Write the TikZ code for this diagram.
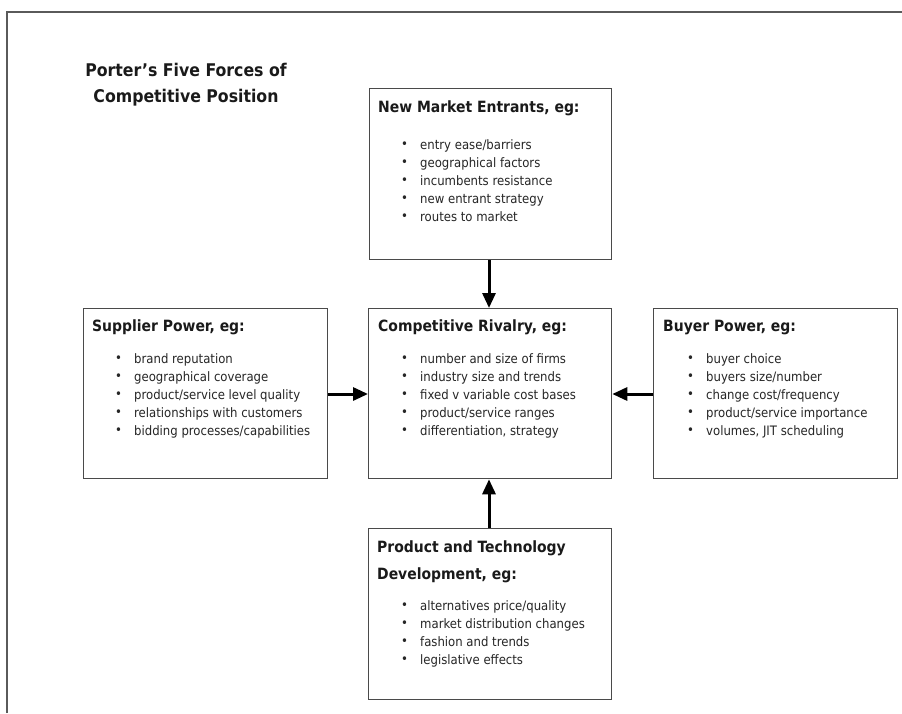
\documentclass[tikz,border=0pt]{standalone}
\usepackage{fontspec}
\setmainfont{DejaVu Sans Condensed}[BoldFont={DejaVu Sans Condensed Bold}]
\usetikzlibrary{arrows.meta}
\definecolor{framegray}{HTML}{5A5A5A}
\definecolor{boxgray}{HTML}{4A4A4A}
\definecolor{ink}{HTML}{1A1A1A}
\definecolor{bodyink}{HTML}{262626}
% bullet list set with its first baseline as reference point
\newcommand{\forcelist}[1]{\fontsize{13}{18}\selectfont\begin{tabular}[t]{@{}p{19pt}@{}l@{}}#1\end{tabular}}
\newcommand{\bitem}{\raisebox{0.3pt}{•}&}
% headings, possibly on two lines, hanging from the first baseline
\newcommand{\forcehead}[1]{\begin{tabular}[t]{@{}l@{}}#1\end{tabular}}
\tikzset{
  forcebox/.style={draw=boxgray, line width=1.3pt, fill=white, anchor=north west, inner sep=0pt},
  heading/.style={anchor=base west, inner sep=0pt, text=ink, font=\fontsize{15.5}{27}\selectfont\bfseries},
  itemlist/.style={anchor=base west, inner sep=0pt, text=bodyink},
  force/.style={line width=3pt, draw=black, -{Triangle[length=15pt,width=13pt]}}
}
\begin{document}
\begin{tikzpicture}[x=1pt, y=-1pt]
  \useasboundingbox (0,0) rectangle (902,713);
  % page frame
  \draw[framegray, line width=1.5pt] (7,713) -- (7,12) -- (902,12);
  % title
  \node[anchor=base, inner sep=0pt, text=ink, align=center,
        font=\fontsize{17.5}{26}\selectfont\bfseries] (title) at (186,102)
        {Porter’s Five Forces of\\Competitive Position};
  % the five boxes
  \node[forcebox, minimum width=242pt, minimum height=171pt] (entrants) at (369,88) {};
  \node[forcebox, minimum width=243pt, minimum height=170pt] (rivalry)  at (368,308) {};
  \node[forcebox, minimum width=244pt, minimum height=170pt] (supplier) at (83,308) {};
  \node[forcebox, minimum width=244pt, minimum height=170pt] (buyer)    at (653,308) {};
  \node[forcebox, minimum width=243pt, minimum height=171pt] (product)  at (368,528) {};
  % new market entrants
  \node[heading] (entrantsH) at (378,112) {New Market Entrants, eg:};
  \node[itemlist] (entrantsL) at (401,149) {\forcelist{%
    \bitem entry ease/barriers\\
    \bitem geographical factors\\
    \bitem incumbents resistance\\
    \bitem new entrant strategy\\
    \bitem routes to market}};
  % competitive rivalry
  \node[heading] (rivalryH) at (378,331) {Competitive Rivalry, eg:};
  \node[itemlist] (rivalryL) at (401,363) {\forcelist{%
    \bitem number and size of firms\\
    \bitem industry size and trends\\
    \bitem fixed v variable cost bases\\
    \bitem product/service ranges\\
    \bitem differentiation, strategy}};
  % supplier power
  \node[heading] (supplierH) at (92,331) {Supplier Power, eg:};
  \node[itemlist] (supplierL) at (115,363) {\forcelist{%
    \bitem brand reputation\\
    \bitem geographical coverage\\
    \bitem product/service level quality\\
    \bitem relationships with customers\\
    \bitem bidding processes/capabilities}};
  % buyer power
  \node[heading] (buyerH) at (663,331) {Buyer Power, eg:};
  \node[itemlist] (buyerL) at (687,363) {\forcelist{%
    \bitem buyer choice\\
    \bitem buyers size/number\\
    \bitem change cost/frequency\\
    \bitem product/service importance\\
    \bitem volumes, JIT scheduling}};
  % product and technology development
  \node[heading] (productH) at (377,552) {\forcehead{Product and Technology\\Development, eg:}};
  \node[itemlist] (productL) at (401,610) {\forcelist{%
    \bitem alternatives price/quality\\
    \bitem market distribution changes\\
    \bitem fashion and trends\\
    \bitem legislative effects}};
  % forces acting on the rivalry box
  \draw[force] (entrants.south -| 489,0) -- (rivalry.north -| 489,0);
  \draw[force] (product.north -| 489,0) -- (rivalry.south -| 489,0);
  \draw[force] (supplier.east |- 0,394) -- (rivalry.west |- 0,394);
  \draw[force] (buyer.west |- 0,394) -- (rivalry.east |- 0,394);
\end{tikzpicture}
\end{document}
